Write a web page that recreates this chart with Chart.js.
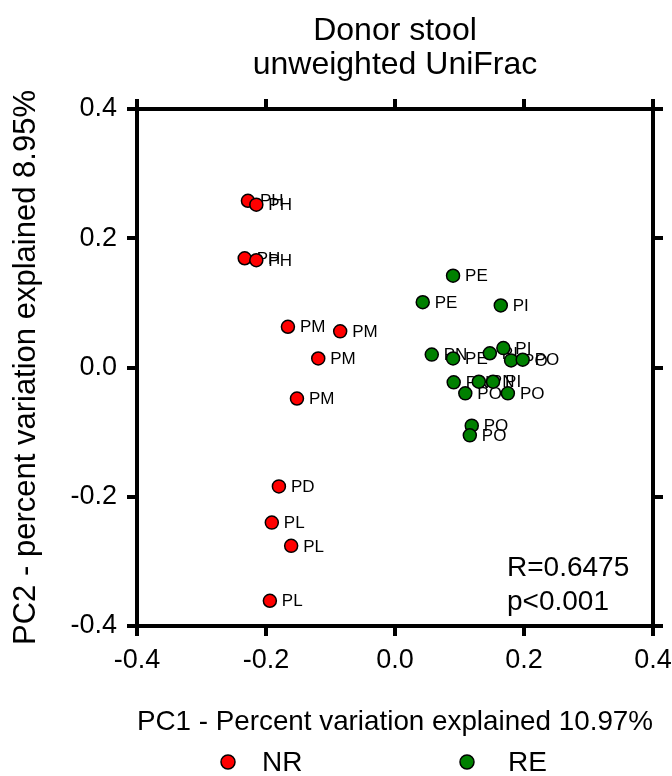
<!DOCTYPE html>
<html>
<head>
<meta charset="utf-8">
<title>Donor stool - unweighted UniFrac</title>
<script src="https://cdn.jsdelivr.net/npm/chart.js@4.4.1/dist/chart.umd.min.js"></script>
<style>
  html, body { margin: 0; padding: 0; background: #fff; }
  #wrap { width: 672px; height: 776px; }
</style>
</head>
<body>
<div id="wrap"><canvas id="pcoa" width="672" height="776"></canvas></div>
<script>
// PCoA coordinates per donor sample (PC1, PC2) and sample codes
const nrPc1 = [-0.228, -0.215, -0.233, -0.215, -0.166, -0.085, -0.119, -0.152, -0.180, -0.191, -0.161, -0.194];
const nrPc2 = [0.258, 0.252, 0.169, 0.166, 0.063, 0.056, 0.014, -0.048, -0.184, -0.240, -0.276, -0.361];
const nrCodes = ['PH', 'PH', 'PH', 'PH', 'PM', 'PM', 'PM', 'PM', 'PD', 'PL', 'PL', 'PL'];

const rePc1 = [0.090, 0.043, 0.164, 0.057, 0.090, 0.147, 0.168, 0.180, 0.198, 0.091, 0.130, 0.152, 0.109, 0.175, 0.119, 0.116];
const rePc2 = [0.142, 0.101, 0.096, 0.020, 0.014, 0.022, 0.030, 0.011, 0.012, -0.023, -0.022, -0.022, -0.040, -0.040, -0.090, -0.105];
const reCodes = ['PE', 'PE', 'PI', 'PN', 'PE', 'PI', 'PI', 'PO', 'PO', 'PN', 'PN', 'PI', 'PO', 'PO', 'PO', 'PO'];

const axisTicks = [-0.4, -0.2, 0, 0.2, 0.4];
const groupNames = ['NR', 'RE'];
const groupColors = ['#ff0000', '#008000'];
const titleLines = ['Donor stool', 'unweighted UniFrac'];
const statLines = ['R=0.6475', 'p<0.001'];

const FONT = '"Liberation Sans", Arial, sans-serif';

const toPoints = (xs, ys) => xs.map((x, i) => ({ x, y: ys[i] }));
const fmtTick = (v) => (Math.abs(v) < 1e-9 ? '0.0' : Number(v).toFixed(1));
const fixedTicks = (scale) => { scale.ticks = axisTicks.map((v) => ({ value: v })); };

// thick black frame with outward tick marks on all four sides
const frameGrid = { drawOnChartArea: false, drawTicks: true, tickLength: 10, lineWidth: 4, color: '#000' };
const frameBorder = { display: true, width: 4, color: '#000' };
const tickOpts = { color: '#000', font: { family: FONT, size: 27 }, padding: 8, maxRotation: 0, autoSkip: false, callback: fmtTick };

// sample codes next to each point (drawn under the markers)
const pointCodes = {
  id: 'pointCodes',
  beforeDatasetsDraw(chart) {
    const { ctx } = chart;
    ctx.save();
    ctx.font = '17px ' + FONT;
    ctx.fillStyle = '#000';
    ctx.textBaseline = 'middle';
    chart.data.datasets.forEach((ds, i) => {
      chart.getDatasetMeta(i).data.forEach((pt, j) => {
        ctx.fillText(ds.codes[j], pt.x + 12, pt.y + 1);
      });
    });
    ctx.restore();
  },
};

// title, statistics and the group key
const extras = {
  id: 'extras',
  afterDraw(chart) {
    const { ctx, chartArea } = chart;
    const cx = (chartArea.left + chartArea.right) / 2;
    ctx.save();
    ctx.fillStyle = '#000';
    ctx.textAlign = 'center';
    ctx.textBaseline = 'alphabetic';
    ctx.font = '32px ' + FONT;
    ctx.fillText(titleLines[0], cx, 40);
    ctx.fillText(titleLines[1], cx, 74);

    ctx.textAlign = 'left';
    ctx.font = '28px ' + FONT;
    ctx.fillText(statLines[0], chartArea.right - 146, chartArea.bottom - 50);
    ctx.fillText(statLines[1], chartArea.right - 146, chartArea.bottom - 16);

    const keyX = [228, 467];
    const keyY = 762;
    chart.data.datasets.forEach((ds, i) => {
      ctx.beginPath();
      ctx.arc(keyX[i], keyY, 7, 0, Math.PI * 2);
      ctx.fillStyle = ds.backgroundColor;
      ctx.fill();
      ctx.lineWidth = 1.5;
      ctx.strokeStyle = '#000';
      ctx.stroke();
      ctx.fillStyle = '#000';
      ctx.textBaseline = 'middle';
      ctx.fillText(ds.label, keyX[i] + 34 + (i ? 7 : 0), keyY + 1);
    });
    ctx.restore();
  },
};

new Chart(document.getElementById('pcoa'), {
  type: 'scatter',
  data: {
    datasets: [
      {
        label: groupNames[0],
        data: toPoints(nrPc1, nrPc2),
        codes: nrCodes,
        backgroundColor: groupColors[0],
        borderColor: '#000',
        borderWidth: 1.5,
        pointRadius: 6.5,
      },
      {
        label: groupNames[1],
        data: toPoints(rePc1, rePc2),
        codes: reCodes,
        backgroundColor: groupColors[1],
        borderColor: '#000',
        borderWidth: 1.5,
        pointRadius: 6.5,
      },
    ],
  },
  options: {
    responsive: false,
    animation: false,
    devicePixelRatio: 1,
    layout: { padding: 0 },
    plugins: { legend: { display: false }, tooltip: { enabled: false } },
    scales: {
      x: {
        type: 'linear', position: 'bottom', min: -0.4, max: 0.4,
        afterBuildTicks: fixedTicks,
        ticks: tickOpts, grid: frameGrid, border: frameBorder,
        title: { display: true, text: 'PC1 - Percent variation explained 10.97%', color: '#000', font: { family: FONT, size: 28.5 }, padding: { bottom: 37 } },
        afterFit: (s) => { s.height = 150; s.paddingLeft = 0; s.paddingRight = 0; },
      },
      y: {
        type: 'linear', position: 'left', min: -0.4, max: 0.4,
        afterBuildTicks: fixedTicks,
        ticks: { ...tickOpts, padding: 10 }, grid: frameGrid, border: frameBorder,
        title: { display: true, text: 'PC2 - percent variation explained 8.95%', color: '#000', font: { family: FONT, size: 31 }, padding: { top: 8 } },
        afterFit: (s) => { s.width = 137; s.paddingTop = 0; s.paddingBottom = 0; },
      },
      x2: {
        type: 'linear', position: 'top', min: -0.4, max: 0.4,
        afterBuildTicks: fixedTicks,
        ticks: { display: false }, grid: frameGrid, border: frameBorder,
        afterFit: (s) => { s.height = 109; },
      },
      y2: {
        type: 'linear', position: 'right', min: -0.4, max: 0.4,
        afterBuildTicks: fixedTicks,
        ticks: { display: false }, grid: frameGrid, border: frameBorder,
        afterFit: (s) => { s.width = 19; },
      },
    },
  },
  plugins: [pointCodes, extras],
});
</script>
</body>
</html>
